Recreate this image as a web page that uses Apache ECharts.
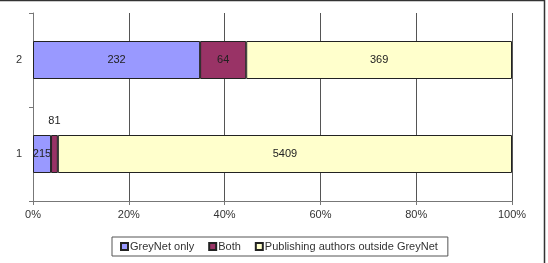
<!DOCTYPE html>
<html>
<head>
<meta charset="utf-8">
<script src="https://cdn.jsdelivr.net/npm/echarts@6/dist/echarts.min.js"></script>
<style>
html,body{margin:0;padding:0;background:#fff}
#chart{width:548px;height:263px}
</style>
</head>
<body>
<div id="chart"></div>
<script>
// 数据
var categories = ['1', '2']
var greyNetOnly = [215, 232]
var both = [81, 64]
var outside = [5409, 369]
var tickLabels = ['0%', '20%', '40%', '60%', '80%', '100%']

// 每一行的总数, 换算成百分比
var totals = categories.map(function (c, i) {
    return greyNetOnly[i] + both[i] + outside[i]
})
function toPct (arr) {
    return arr.map(function (v, i) {
        return { value: v / totals[i] * 100, raw: v }
    })
}

var labelFmt = function (p) { return p.data.raw }
var border = { borderColor: '#222', borderWidth: 1 }

var bothData = toPct(both)
// 第一行的 Both 标签放在上方
bothData[0].label = { position: 'top', distance: 9 }

var option = {
    animation: false,
    textStyle: { fontFamily: 'Liberation Sans, Arial, sans-serif' },
    grid: { left: 33, right: 36, top: 13, bottom: 62 },
    xAxis: {
        type: 'value', min: 0, max: 100, interval: 20,
        axisLine: { show: true, lineStyle: { color: '#777' } },
        axisTick: { show: true, length: 4, lineStyle: { color: '#777' } },
        splitLine: { show: true, lineStyle: { color: '#555', width: 1 } },
        axisLabel: {
            color: '#333', fontSize: 11, margin: 8,
            formatter: function (v) { return tickLabels[v / 20] }
        }
    },
    yAxis: {
        type: 'category', data: categories,
        axisLine: { show: true, lineStyle: { color: '#777' } },
        axisTick: { show: true, length: 4, lineStyle: { color: '#777' } },
        axisLabel: { color: '#333', fontSize: 11, margin: 11 }
    },
    legend: {
        left: 112, top: 237, width: 400,
        itemWidth: 7, itemHeight: 7, itemGap: 14,
        padding: [4, 10, 4, 8],
        borderColor: '#555', borderWidth: 1, borderRadius: 0,
        textStyle: { color: '#333', fontSize: 11, padding: [0, 0, 0, -3] },
        icon: 'rect',
        data: ['GreyNet only', 'Both', 'Publishing authors outside GreyNet']
    },
    graphic: [{
        type: 'rect',
        shape: { x: -5, y: 0.5, width: 549.5, height: 270 },
        style: { fill: 'none', stroke: '#333', lineWidth: 1.5 },
        silent: true
    }],
    series: [{
        name: 'GreyNet only', type: 'bar', stack: 'all', barWidth: 38,
        data: toPct(greyNetOnly),
        itemStyle: Object.assign({ color: '#9999FF' }, border),
        label: { show: true, position: 'inside', color: '#222', fontSize: 11, formatter: labelFmt }
    }, {
        name: 'Both', type: 'bar', stack: 'all',
        data: bothData,
        itemStyle: Object.assign({ color: '#993366' }, border),
        label: { show: true, position: 'inside', color: '#222', fontSize: 11, formatter: labelFmt }
    }, {
        name: 'Publishing authors outside GreyNet', type: 'bar', stack: 'all',
        data: toPct(outside),
        itemStyle: Object.assign({ color: '#FFFFCC' }, border),
        label: { show: true, position: 'inside', color: '#222', fontSize: 11, formatter: labelFmt }
    }]
}

var chartDom = document.getElementById('chart')
var myChart = echarts.init(chartDom)
myChart.setOption(option)
</script>
</body>
</html>
